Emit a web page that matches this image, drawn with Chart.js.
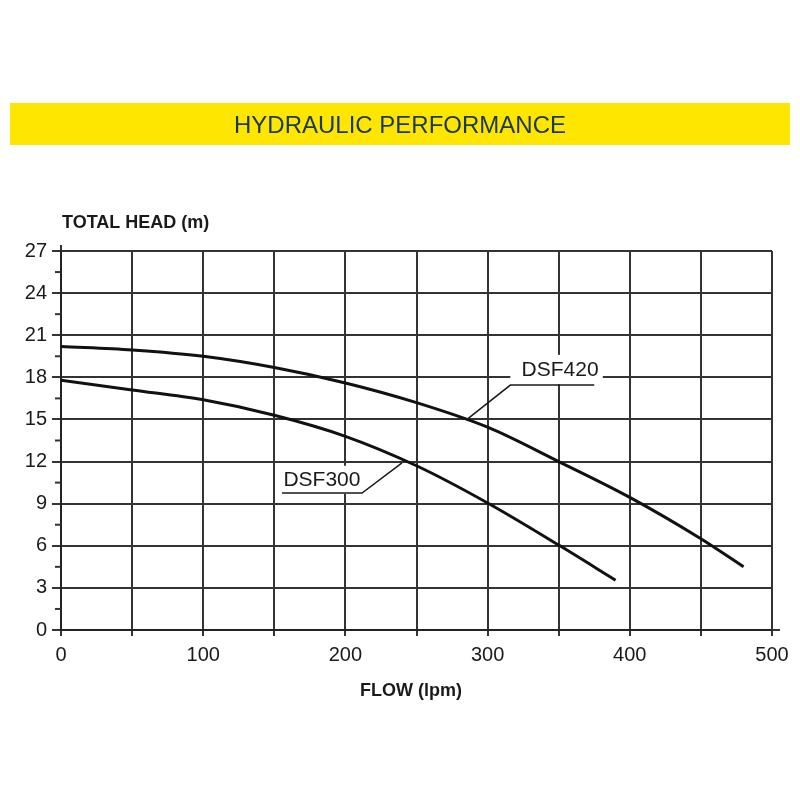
<!DOCTYPE html>
<html>
<head>
<meta charset="utf-8">
<script src="https://cdn.jsdelivr.net/npm/chart.js@4.4.0/dist/chart.umd.min.js"></script>
<style>
  body { margin: 0; background: #fff; }
  canvas { display: block; }
</style>
</head>
<body>
<canvas id="pumpChart" width="800" height="800"></canvas>
<script>
// curve data
var flow420 = [0, 50, 100, 150, 200, 250, 300, 350, 400, 450, 480];
var head420 = [20.2, 19.95, 19.5, 18.7, 17.6, 16.2, 14.45, 12.0, 9.45, 6.5, 4.5];
var flow300 = [0, 50, 100, 150, 200, 250, 300, 350, 390];
var head300 = [17.8, 17.1, 16.4, 15.3, 13.8, 11.7, 9.05, 6.05, 3.55];
var seriesNames = ['DSF420', 'DSF300'];
var xTickLabels = [0, 100, 200, 300, 400, 500];
var yTickLabels = [0, 3, 6, 9, 12, 15, 18, 21, 24, 27];

// callout placement in data units
var callouts = [
    { text: 'DSF420', tx: 351, ty: 18.5, box: [316, 381, 19.6, 17.5],
      leader: [[285.5, 15.0], [316, 17.45], [375, 17.45]] },
    { text: 'DSF300', tx: 183.5, ty: 10.7, box: [154, 214, 11.7, 9.7],
      leader: [[155.4, 9.76], [211.7, 9.76], [239.8, 11.9]] }
];

function toPoints(xs, ys) {
    return xs.map(function (x, i) { return { x: x, y: ys[i] }; });
}

var FONT = "'Liberation Sans', Arial, Helvetica, sans-serif";
var INK = '#1a1a1a';

var decor = {
    id: 'decor',
    beforeDraw: function (chart) {
        var c = chart.ctx;
        c.save();
        c.fillStyle = '#fff';
        c.fillRect(0, 0, chart.width, chart.height);
        // yellow banner
        c.fillStyle = '#ffe600';
        c.fillRect(10, 103, 780, 42);
        c.fillStyle = '#1b3857';
        c.font = '24px ' + FONT;
        c.textAlign = 'center';
        c.textBaseline = 'middle';
        c.fillText('HYDRAULIC PERFORMANCE', 400, 126);
        // axis titles
        c.fillStyle = INK;
        c.font = 'bold 18px ' + FONT;
        c.textAlign = 'left';
        c.fillText('TOTAL HEAD (m)', 62, 223);
        c.textAlign = 'center';
        c.fillText('FLOW (lpm)', 411, 691);
        c.restore();
    },
    beforeDatasetsDraw: function (chart) {
        var c = chart.ctx, xs = chart.scales.x, ys = chart.scales.y;
        c.save();
        c.fillStyle = '#fff';
        callouts.forEach(function (a) {
            var x0 = xs.getPixelForValue(a.box[0]), x1 = xs.getPixelForValue(a.box[1]);
            var y0 = ys.getPixelForValue(a.box[2]), y1 = ys.getPixelForValue(a.box[3]);
            c.fillRect(x0, y0, x1 - x0, y1 - y0);
        });
        c.restore();
    },
    afterDatasetsDraw: function (chart) {
        var c = chart.ctx, xs = chart.scales.x, ys = chart.scales.y;
        var area = chart.chartArea;
        c.save();
        c.strokeStyle = INK;
        c.lineWidth = 1.5;
        callouts.forEach(function (a) {
            c.beginPath();
            a.leader.forEach(function (p, i) {
                var px = xs.getPixelForValue(p[0]), py = ys.getPixelForValue(p[1]);
                if (i === 0) c.moveTo(px, py); else c.lineTo(px, py);
            });
            c.stroke();
            c.fillStyle = INK;
            c.font = '21px ' + FONT;
            c.textAlign = 'center';
            c.textBaseline = 'middle';
            c.fillText(a.text, xs.getPixelForValue(a.tx), ys.getPixelForValue(a.ty));
        });
        // minor ticks on the head axis
        c.lineWidth = 2;
        c.strokeStyle = '#333';
        for (var v = 1.5; v < 27; v += 3) {
            var py = ys.getPixelForValue(v);
            c.beginPath();
            c.moveTo(area.left - 6, py);
            c.lineTo(area.left, py);
            c.stroke();
        }
        // axis overhangs
        c.beginPath();
        c.moveTo(area.left, area.top);
        c.lineTo(area.left, area.top - 6);
        c.moveTo(area.right, area.bottom);
        c.lineTo(area.right + 8, area.bottom);
        c.stroke();
        c.restore();
    }
};

var ctx = document.getElementById('pumpChart').getContext('2d');
var chart = new Chart(ctx, {
    type: 'line',
    data: {
        datasets: [{
            label: seriesNames[0],
            data: toPoints(flow420, head420),
            borderColor: '#111',
            borderWidth: 3,
            pointRadius: 0,
            cubicInterpolationMode: 'monotone',
            fill: false
        }, {
            label: seriesNames[1],
            data: toPoints(flow300, head300),
            borderColor: '#111',
            borderWidth: 3,
            pointRadius: 0,
            cubicInterpolationMode: 'monotone',
            fill: false
        }]
    },
    options: {
        responsive: false,
        animation: false,
        layout: { padding: { top: 251, right: 28, left: 0, bottom: 0 } },
        plugins: {
            legend: { display: false },
            tooltip: { enabled: false }
        },
        scales: {
            x: {
                type: 'linear',
                min: 0,
                max: 500,
                afterFit: function (s) { s.height = 170; },
                ticks: {
                    stepSize: 50,
                    maxRotation: 0,
                    autoSkip: false,
                    padding: 7,
                    color: INK,
                    font: { family: FONT, size: 20 },
                    callback: function (v) { return xTickLabels.indexOf(v) >= 0 ? v : ''; }
                },
                grid: { color: '#333', lineWidth: 2, tickLength: 6, tickColor: '#333' },
                border: { color: '#222', width: 2 }
            },
            y: {
                min: 0,
                max: 27,
                afterFit: function (s) { s.width = 61; },
                ticks: {
                    stepSize: 3,
                    autoSkip: false,
                    padding: 5,
                    color: INK,
                    font: { family: FONT, size: 20 },
                    callback: function (v) { return yTickLabels.indexOf(v) >= 0 ? v : ''; }
                },
                grid: { color: '#333', lineWidth: 2, tickLength: 9, tickColor: '#333' },
                border: { color: '#222', width: 2 }
            }
        }
    },
    plugins: [decor]
});
</script>
</body>
</html>
